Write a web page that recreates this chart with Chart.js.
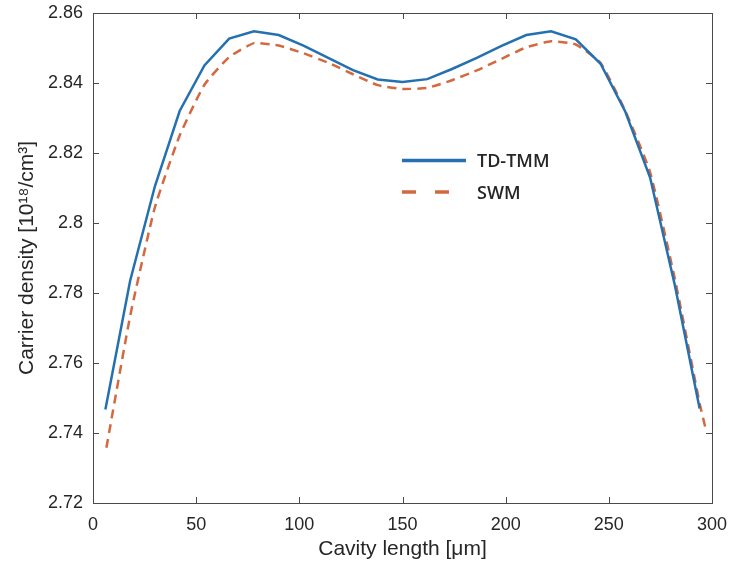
<!DOCTYPE html>
<html>
<head>
<meta charset="utf-8">
<script src="https://cdn.jsdelivr.net/npm/chart.js@4.4.1/dist/chart.umd.min.js"></script>
<style>
  html, body { margin: 0; padding: 0; background: #ffffff; }
  #wrap { width: 734px; height: 566px; }
</style>
</head>
<body>
<div id="wrap"><canvas id="densityChart" width="734" height="566"></canvas></div>
<script>
// --- Data ---
const tdTmmX = [6, 18, 30, 42, 54, 66, 78, 90, 102, 114, 126, 138, 150,
  162, 174, 186, 198, 210, 222, 234, 246, 258, 270, 282, 294];
const tdTmmY = [2.7467, 2.7835, 2.8105, 2.832, 2.845, 2.8527, 2.8548, 2.8537,
  2.8507, 2.8472, 2.8437, 2.841, 2.8403, 2.8411, 2.844, 2.8472, 2.8506,
  2.8537, 2.8548, 2.8525, 2.8455, 2.8318, 2.813, 2.7822, 2.747];

const swmX = [6.5, 18, 30, 42, 54, 66, 78, 90, 102, 114, 126, 138, 150,
  162, 174, 186, 198, 210, 222, 234, 246, 258, 270, 282, 294, 297];
const swmY = [2.7358, 2.7734, 2.8045, 2.825, 2.8395, 2.8474, 2.8514, 2.8507,
  2.8485, 2.8458, 2.8425, 2.8394, 2.8383, 2.8386, 2.8408, 2.8436, 2.8469,
  2.8502, 2.8519, 2.851, 2.8457, 2.832, 2.8145, 2.784, 2.7485, 2.741];

const xTicks = [0, 50, 100, 150, 200, 250, 300];
const yTicks = [2.72, 2.74, 2.76, 2.78, 2.8, 2.82, 2.84, 2.86];

const seriesNames = ["TD-TMM", "SWM"];

document.addEventListener("DOMContentLoaded", function () {
  const axisColor = "#4a4a4a";
  const textColor = "#262626";
  const fontFamily = "'Liberation Sans', Arial, sans-serif";

  const toPoints = (xs, ys) => xs.map((x, i) => ({ x: x, y: ys[i] }));

  // MATLAB-style box with inward ticks on all four sides
  const boxPlugin = {
    id: "matlabBox",
    afterDraw(chart) {
      const { ctx, chartArea: a, scales } = chart;
      const len = 6;
      ctx.save();
      ctx.strokeStyle = axisColor;
      ctx.lineWidth = 1;
      ctx.strokeRect(a.left + 0.5, a.top + 0.5, a.right - a.left, a.bottom - a.top);
      ctx.beginPath();
      scales.x.ticks.forEach((t) => {
        const px = Math.round(scales.x.getPixelForValue(t.value)) + 0.5;
        ctx.moveTo(px, a.bottom);
        ctx.lineTo(px, a.bottom - len);
        ctx.moveTo(px, a.top);
        ctx.lineTo(px, a.top + len);
      });
      scales.y.ticks.forEach((t) => {
        const py = Math.round(scales.y.getPixelForValue(t.value)) + 0.5;
        ctx.moveTo(a.left, py);
        ctx.lineTo(a.left + len, py);
        ctx.moveTo(a.right, py);
        ctx.lineTo(a.right - len, py);
      });
      ctx.stroke();
      ctx.restore();
    },
  };

  // Legend drawn inside the plot area
  const legendPlugin = {
    id: "innerLegend",
    afterDatasetsDraw(chart) {
      const { ctx } = chart;
      const rows = [160.5, 192];
      ctx.save();
      chart.data.datasets.forEach((ds, i) => {
        const y = rows[i];
        ctx.strokeStyle = ds.borderColor;
        ctx.lineWidth = 3.5;
        ctx.setLineDash(i === 1 ? [14, 19] : []);
        ctx.beginPath();
        ctx.moveTo(402, y);
        ctx.lineTo(466, y);
        ctx.stroke();
        ctx.setLineDash([]);
        ctx.fillStyle = textColor;
        ctx.font = "600 18px 'Open Sans', sans-serif";
        ctx.textBaseline = "middle";
        ctx.fillText(ds.label, 477, y + 1.5);
      });
      ctx.restore();
    },
  };

  new Chart(document.getElementById("densityChart"), {
    type: "line",
    data: {
      datasets: [
        {
          label: seriesNames[0],
          data: toPoints(tdTmmX, tdTmmY),
          borderColor: "#2470b0",
          borderWidth: 2.5,
          pointRadius: 0,
          tension: 0,
        },
        {
          label: seriesNames[1],
          data: toPoints(swmX, swmY),
          borderColor: "#d4683e",
          borderWidth: 2.5,
          borderDash: [9, 6],
          pointRadius: 0,
          tension: 0.15,
        },
      ],
    },
    options: {
      responsive: false,
      animation: false,
      layout: { padding: { top: 13, right: 22, left: 0, bottom: 0 } },
      plugins: {
        legend: { display: false },
        tooltip: { enabled: false },
      },
      scales: {
        x: {
          type: "linear",
          min: 0,
          max: 300,
          afterBuildTicks: (scale) => {
            scale.ticks = xTicks.map((v) => ({ value: v }));
          },
          afterFit: (scale) => {
            scale.height = 63;
            scale.paddingLeft = 0;
            scale.paddingRight = 0;
          },
          grid: { display: false, drawTicks: false },
          border: { display: false },
          ticks: {
            color: textColor,
            padding: 11,
            font: { family: fontFamily, size: 18 },
            maxRotation: 0,
          },
          title: {
            display: true,
            text: "Cavity length [μm]",
            color: textColor,
            font: { family: fontFamily, size: 21 },
            padding: { top: 0, bottom: 4 },
          },
        },
        y: {
          min: 2.72,
          max: 2.86,
          afterBuildTicks: (scale) => {
            scale.ticks = yTicks.map((v) => ({ value: v }));
          },
          afterFit: (scale) => {
            scale.width = 93;
            scale.paddingTop = 0;
            scale.paddingBottom = 0;
          },
          grid: { display: false, drawTicks: false },
          border: { display: false },
          ticks: {
            color: textColor,
            padding: 10,
            font: { family: fontFamily, size: 18 },
            callback: (value) => String(parseFloat(Number(value).toFixed(2))),
          },
          title: {
            display: true,
            text: "Carrier density [10¹⁸/cm³]",
            color: textColor,
            font: { family: fontFamily, size: 21 },
            padding: { top: 15, bottom: 0 },
          },
        },
      },
    },
    plugins: [boxPlugin, legendPlugin],
  });
});
</script>
</body>
</html>
